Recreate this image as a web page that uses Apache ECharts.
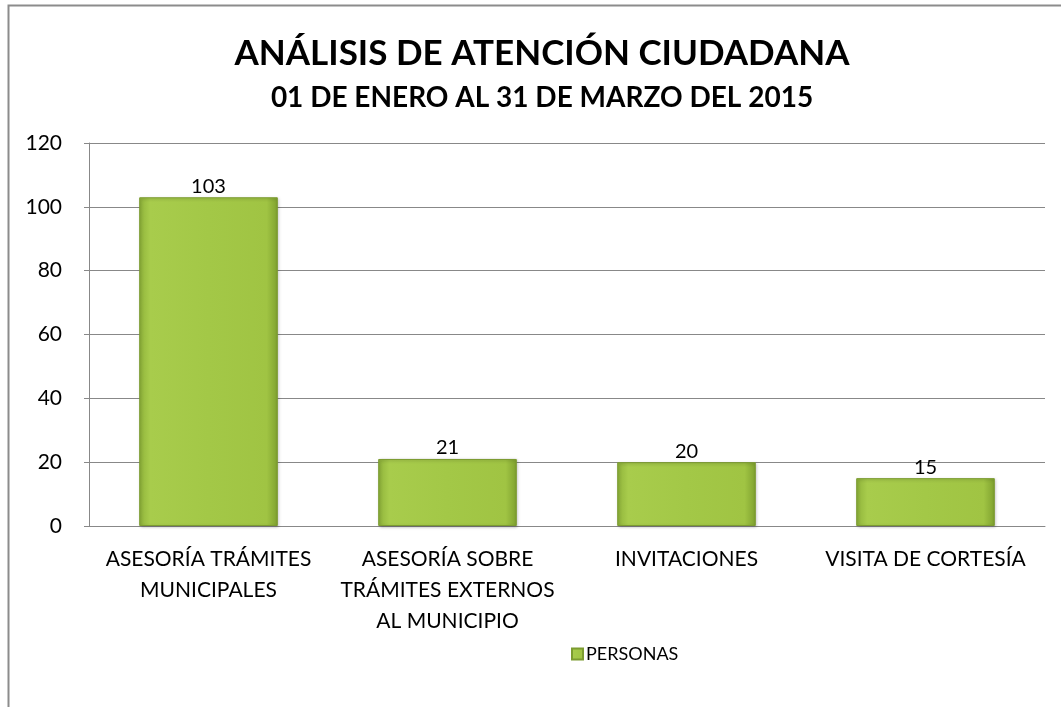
<!DOCTYPE html>
<html>
<head>
<meta charset="utf-8">
<script src="https://cdn.jsdelivr.net/npm/echarts@6/dist/echarts.min.js"></script>
<style>
  html, body { margin: 0; padding: 0; background: #fff; }
  #chart { width: 1061px; height: 707px; }
</style>
</head>
<body>
<div id="chart"></div>
<script>
// datos del gráfico
const categorias = [
    'ASESORÍA TRÁMITES\nMUNICIPALES',
    'ASESORÍA SOBRE\nTRÁMITES EXTERNOS\nAL MUNICIPIO',
    'INVITACIONES',
    'VISITA DE CORTESÍA'
];
const personas = [103, 21, 20, 15];
const ejeY = { min: 0, max: 120, interval: 20 };

const chartDom = document.getElementById('chart');
const myChart = echarts.init(chartDom);

const fuente = 'Lato, "Open Sans", sans-serif';

const option = {
    animation: false,
    textStyle: { fontFamily: fuente },
    graphic: [{
        type: 'rect',
        shape: { x: 8.5, y: 5.5, width: 1100, height: 800 },
        style: { fill: 'none', stroke: '#8c8c8c', lineWidth: 2 },
        silent: true
    }],
    title: {
        text: 'ANÁLISIS DE ATENCIÓN CIUDADANA',
        subtext: '01 DE ENERO AL 31 DE MARZO DEL 2015',
        left: 537,
        textAlign: 'center',
        top: 31,
        itemGap: 13,
        textStyle: { fontFamily: fuente, fontSize: 35, fontWeight: 'bold', color: '#000' },
        subtextStyle: { fontFamily: fuente, fontSize: 28, fontWeight: 'bold', color: '#000' }
    },
    legend: {
        top: 640,
        left: 566,
        itemWidth: 11,
        itemHeight: 11,
        itemGap: 4,
        icon: 'rect',
        textStyle: { fontFamily: fuente, fontSize: 18, color: '#000', padding: [0, 0, 0, -2] },
        data: ['PERSONAS']
    },
    grid: { left: 89, right: 16, top: 143, bottom: 181 },
    xAxis: {
        type: 'category',
        data: categorias,
        axisLine: { lineStyle: { color: '#888', width: 1 } },
        axisTick: { show: false },
        axisLabel: { color: '#000', fontSize: 21, lineHeight: 31, margin: 18, interval: 0 }
    },
    yAxis: {
        type: 'value',
        min: ejeY.min,
        max: ejeY.max,
        interval: ejeY.interval,
        axisLine: { show: true, lineStyle: { color: '#888', width: 1 } },
        axisTick: { show: true, length: 5, lineStyle: { color: '#888' } },
        axisLabel: { color: '#000', fontSize: 21, margin: 27 },
        splitLine: { lineStyle: { color: '#888', width: 1 } }
    },
    series: [{
        name: 'PERSONAS',
        type: 'bar',
        data: personas,
        barWidth: '58%',
        itemStyle: {
            color: new echarts.graphic.LinearGradient(0, 0, 1, 0, [
                { offset: 0, color: '#8fb33a' },
                { offset: 0.08, color: '#a8cc4c' },
                { offset: 0.5, color: '#a3c847' },
                { offset: 0.92, color: '#a0c443' },
                { offset: 1, color: '#7fa12f' }
            ]),
            borderColor: '#7c9c30',
            borderWidth: 1,
            shadowColor: 'rgba(0,0,0,0.25)',
            shadowBlur: 3,
            shadowOffsetX: 1,
            shadowOffsetY: 1
        },
        label: {
            show: true,
            position: 'top',
            distance: 1,
            color: '#000',
            fontSize: 20,
            fontFamily: fuente
        }
    }]
};

myChart.setOption(option);
</script>
</body>
</html>
